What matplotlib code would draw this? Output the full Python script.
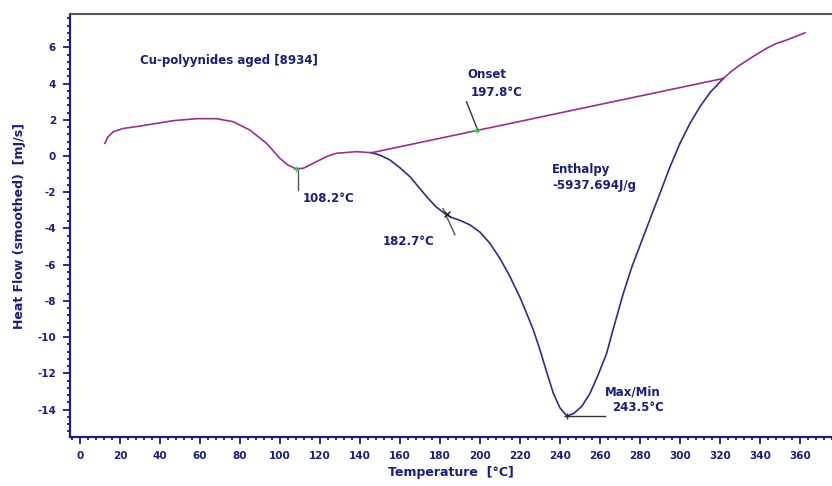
import matplotlib.pyplot as plt
from matplotlib.ticker import MultipleLocator

plt.rcParams['axes.unicode_minus'] = False

# DSC trace
t_pre = [12.5, 14, 16.7, 21.7, 30, 38.3, 46.7, 58.3, 68.3, 76.7, 85, 93.3, 100,
         104, 107.5, 108.2, 111.7, 118.3, 124, 128.3, 138.3, 145.8]
hf_pre = [0.70, 1.05, 1.34, 1.52, 1.65, 1.80, 1.95, 2.06, 2.06, 1.89, 1.43, 0.70, -0.13,
          -0.50, -0.68, -0.70, -0.68, -0.31, 0.0, 0.15, 0.24, 0.18]

t_peak = [145.8, 150, 155, 160, 165, 170, 173.3, 178, 182.7, 186, 190, 195, 200, 205,
          210, 215, 220, 223.3, 226.7, 230, 233.3, 236.7, 240, 243.5, 247, 251, 255,
          259, 263.3, 267, 271.7, 276, 281.7, 286, 290, 295, 300, 305, 310, 315, 321.7]
hf_peak = [0.18, 0.05, -0.22, -0.65, -1.14, -1.8, -2.24, -2.8, -3.2, -3.4, -3.55, -3.8,
           -4.2, -4.82, -5.65, -6.65, -7.8, -8.67, -9.6, -10.7, -11.9, -13.1, -13.9,
           -14.35, -14.2, -13.8, -13.1, -12.1, -10.9, -9.4, -7.57, -6.1, -4.45, -3.2,
           -2.06, -0.6, 0.7, 1.8, 2.72, 3.5, 4.28]

t_post = [321.7, 326, 330, 336, 343.3, 348, 353.3, 358, 362.5]
hf_post = [4.28, 4.7, 5.02, 5.45, 5.94, 6.2, 6.40, 6.6, 6.8]

t_base = [145.8, 321.7]
hf_base = [0.18, 4.28]

navy = '#1c1c7a'
magenta = '#9a2f8c'
blue = '#2d2d8c'

fig = plt.figure(figsize=(8.32, 4.86), dpi=100)
ax = fig.add_axes([0.084, 0.101, 0.916, 0.870])

ax.plot(t_pre, hf_pre, color=magenta, lw=1.2)
ax.plot(t_peak, hf_peak, color=blue, lw=1.2)
ax.plot(t_post, hf_post, color=magenta, lw=1.2)
ax.plot(t_base, hf_base, color=magenta, lw=1.2)

# markers
ax.plot([109, 109], [-0.66, -1.87], color='#555555', lw=1)
ax.plot(108.2, -0.70, marker='+', color='#44cc44', ms=5, mew=1)
ax.plot([193.3, 199.2], [2.99, 1.34], color='#333333', lw=1)
ax.plot(197.8, 1.43, marker='+', color='#44cc44', ms=5, mew=1)
ax.plot([181.5, 187.5], [-2.9, -4.35], color='#555555', lw=1)
ax.plot(183.5, -3.2, marker='x', color='#222222', ms=4, mew=1)
ax.plot([243.5, 262.5], [-14.35, -14.35], color='#333333', lw=1)
ax.plot(243.5, -14.35, marker='+', color='#333333', ms=5, mew=1)

tk = dict(color=navy, fontweight='bold', fontsize=8.5, va='center')
ax.text(30, 5.29, 'Cu-polyynides aged [8934]', **tk)
ax.text(193.5, 4.47, 'Onset', **tk)
ax.text(195.5, 3.53, '197.8°C', **tk)
ax.text(111.5, -2.37, '108.2°C', **tk)
ax.text(151.5, -4.74, '182.7°C', **tk)
ax.text(236, -0.77, 'Enthalpy', **tk)
ax.text(236, -1.65, '-5937.694J/g', **tk)
ax.text(262.5, -13.0, 'Max/Min', **tk)
ax.text(266, -13.9, '243.5°C', **tk)

ax.set_xlim(-5, 376)
ax.set_ylim(-15.5, 7.83)
ax.xaxis.set_major_locator(MultipleLocator(20))
ax.xaxis.set_minor_locator(MultipleLocator(4))
ax.yaxis.set_major_locator(MultipleLocator(2))
ax.yaxis.set_minor_locator(MultipleLocator(0.4))
ax.set_xticks(range(0, 361, 20))
ax.set_yticks(range(-14, 7, 2))

ax.tick_params(which='both', direction='out', colors=navy, width=1.3)
ax.tick_params(which='major', length=5, labelsize=7.5, pad=5)
ax.tick_params(which='minor', length=2.5)
for lab in ax.get_xticklabels() + ax.get_yticklabels():
    lab.set_fontweight('bold')

ax.spines['left'].set_color(navy)
ax.spines['bottom'].set_color(navy)
ax.spines['left'].set_linewidth(1.6)
ax.spines['bottom'].set_linewidth(1.6)
ax.spines['top'].set_color('#555555')
ax.spines['top'].set_linewidth(1.5)
ax.spines['right'].set_visible(False)

ax.set_xlabel('Temperature  [°C]', color=navy, fontweight='bold', fontsize=9, labelpad=4)
ax.set_ylabel('Heat Flow (smoothed)  [mJ/s]', color=navy, fontweight='bold', fontsize=9, labelpad=8)

fig.savefig('out.png', dpi=100)
